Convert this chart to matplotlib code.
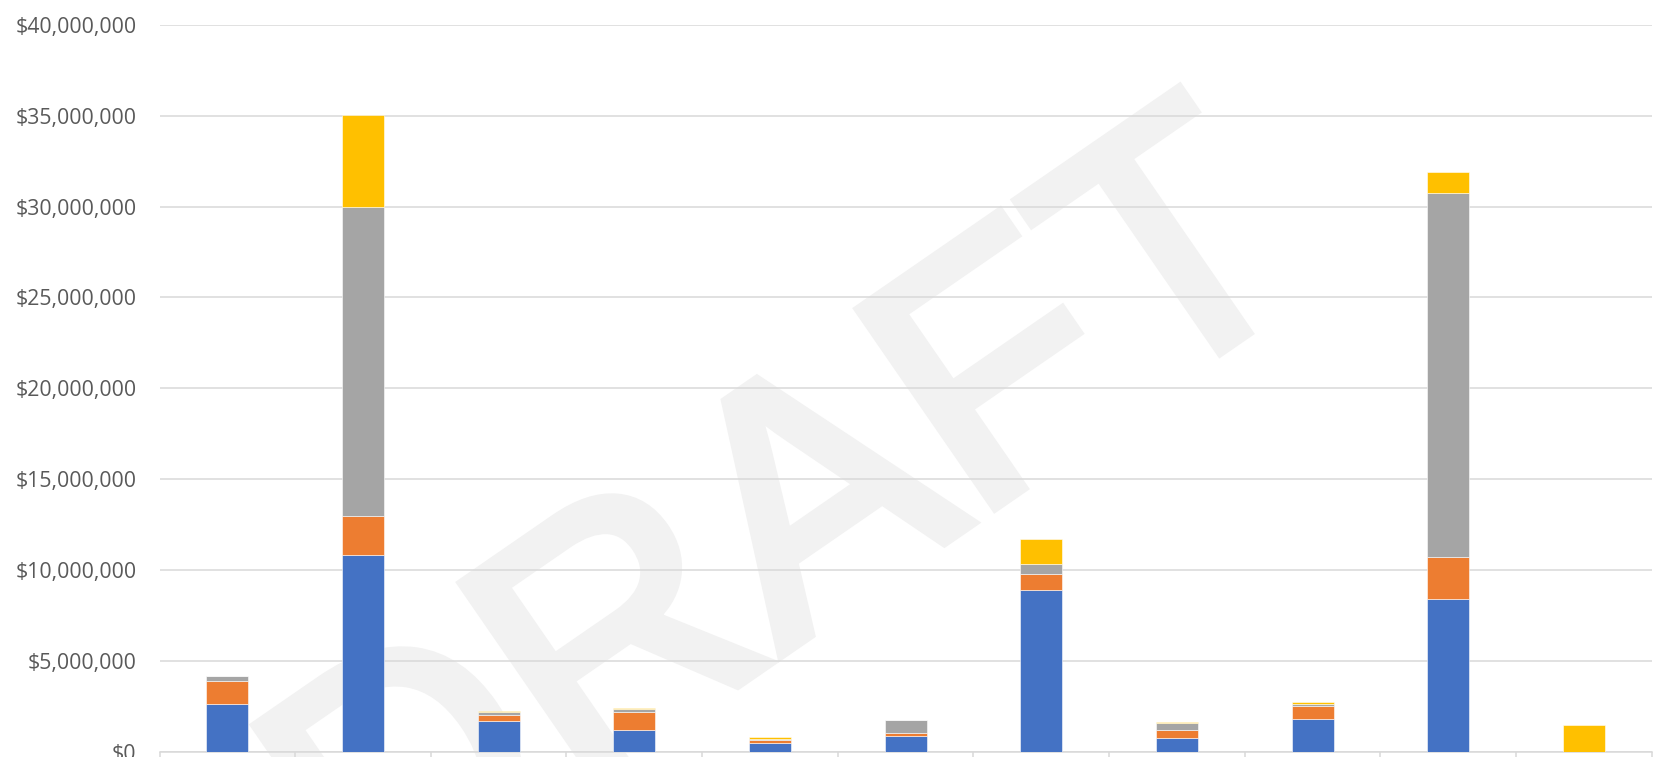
import matplotlib
matplotlib.use("Agg")
import matplotlib.pyplot as plt
from matplotlib.ticker import FuncFormatter, FixedLocator
import matplotlib.patheffects as pe
import numpy as np

# ---- data (values in $) ----
categories = ["1", "2", "3", "4", "5", "6", "7", "8", "9", "10", "11"]
series_blue   = [2.64e6, 10.80e6, 1.70e6, 1.16e6, 0.48e6, 0.84e6, 8.91e6, 0.73e6, 1.78e6, 8.42e6, 0.0]
series_orange = [1.23e6,  2.18e6, 0.30e6, 1.04e6, 0.14e6, 0.19e6, 0.85e6, 0.43e6, 0.71e6, 2.29e6, 0.0]
series_gray   = [0.27e6, 16.99e6, 0.20e6, 0.13e6, 0.08e6, 0.69e6, 0.58e6, 0.40e6, 0.15e6, 20.03e6, 0.0]
series_yellow = [0.04e6,  5.08e6, 0.05e6, 0.04e6, 0.09e6, 0.04e6, 1.38e6, 0.05e6, 0.11e6, 1.17e6, 1.45e6]
y_ticks = [0, 5e6, 10e6, 15e6, 20e6, 25e6, 30e6, 35e6, 40e6]
watermark = "DRAFT"

colors = ["#4472C4", "#ED7D31", "#A5A5A5", "#FFC000"]

W, H = 1662, 757
fig = plt.figure(figsize=(W / 100, H / 100), dpi=100)
fig.patch.set_facecolor("white")

# watermark behind everything
fig.text(845 / W, 1 - 610 / H, watermark, fontsize=250, color="#F2F2F2",
         family="Liberation Sans", rotation=34.6, rotation_mode="anchor",
         ha="center", va="baseline", zorder=0,
         path_effects=[pe.withStroke(linewidth=8, foreground="#F2F2F2",
                                     joinstyle="miter")])

ax = fig.add_axes([159.5 / W, 1 - 751.5 / H, (1651.7 - 159.5) / W, (751.5 - 25) / H])
ax.set_facecolor("none")
ax.set_zorder(1)

x = np.arange(len(categories))
bottom = np.zeros(len(categories))
for vals, c in zip([series_blue, series_orange, series_gray, series_yellow], colors):
    v = np.array(vals)
    ax.bar(x, v, width=0.31, bottom=bottom, color=c,
           edgecolor=(1, 1, 1, 0.55), linewidth=0.7, zorder=3)
    bottom += v

ax.set_xlim(-0.5, len(categories) - 0.5)
ax.set_ylim(0, 40e6)
ax.yaxis.set_major_locator(FixedLocator(y_ticks))
ax.yaxis.set_major_formatter(FuncFormatter(lambda v, p: "${:,.0f}".format(v)))
ax.grid(axis="y", color="#D9D9D9", linewidth=1.1, zorder=1)
ax.set_axisbelow(True)

for s in ["top", "right", "left"]:
    ax.spines[s].set_visible(False)
ax.spines["bottom"].set_color("#D9D9D9")
ax.spines["bottom"].set_linewidth(1.1)

ax.set_xticks(np.arange(len(categories) + 1) - 0.5)
ax.set_xticklabels([])
ax.tick_params(axis="x", length=8, color="#D9D9D9", width=1.1)
ax.tick_params(axis="y", length=0, pad=16.5, labelsize=15.3, labelcolor="#595959")
for lab in ax.get_yticklabels():
    lab.set_family("Open Sans")

fig.savefig("out.png", dpi=100)
